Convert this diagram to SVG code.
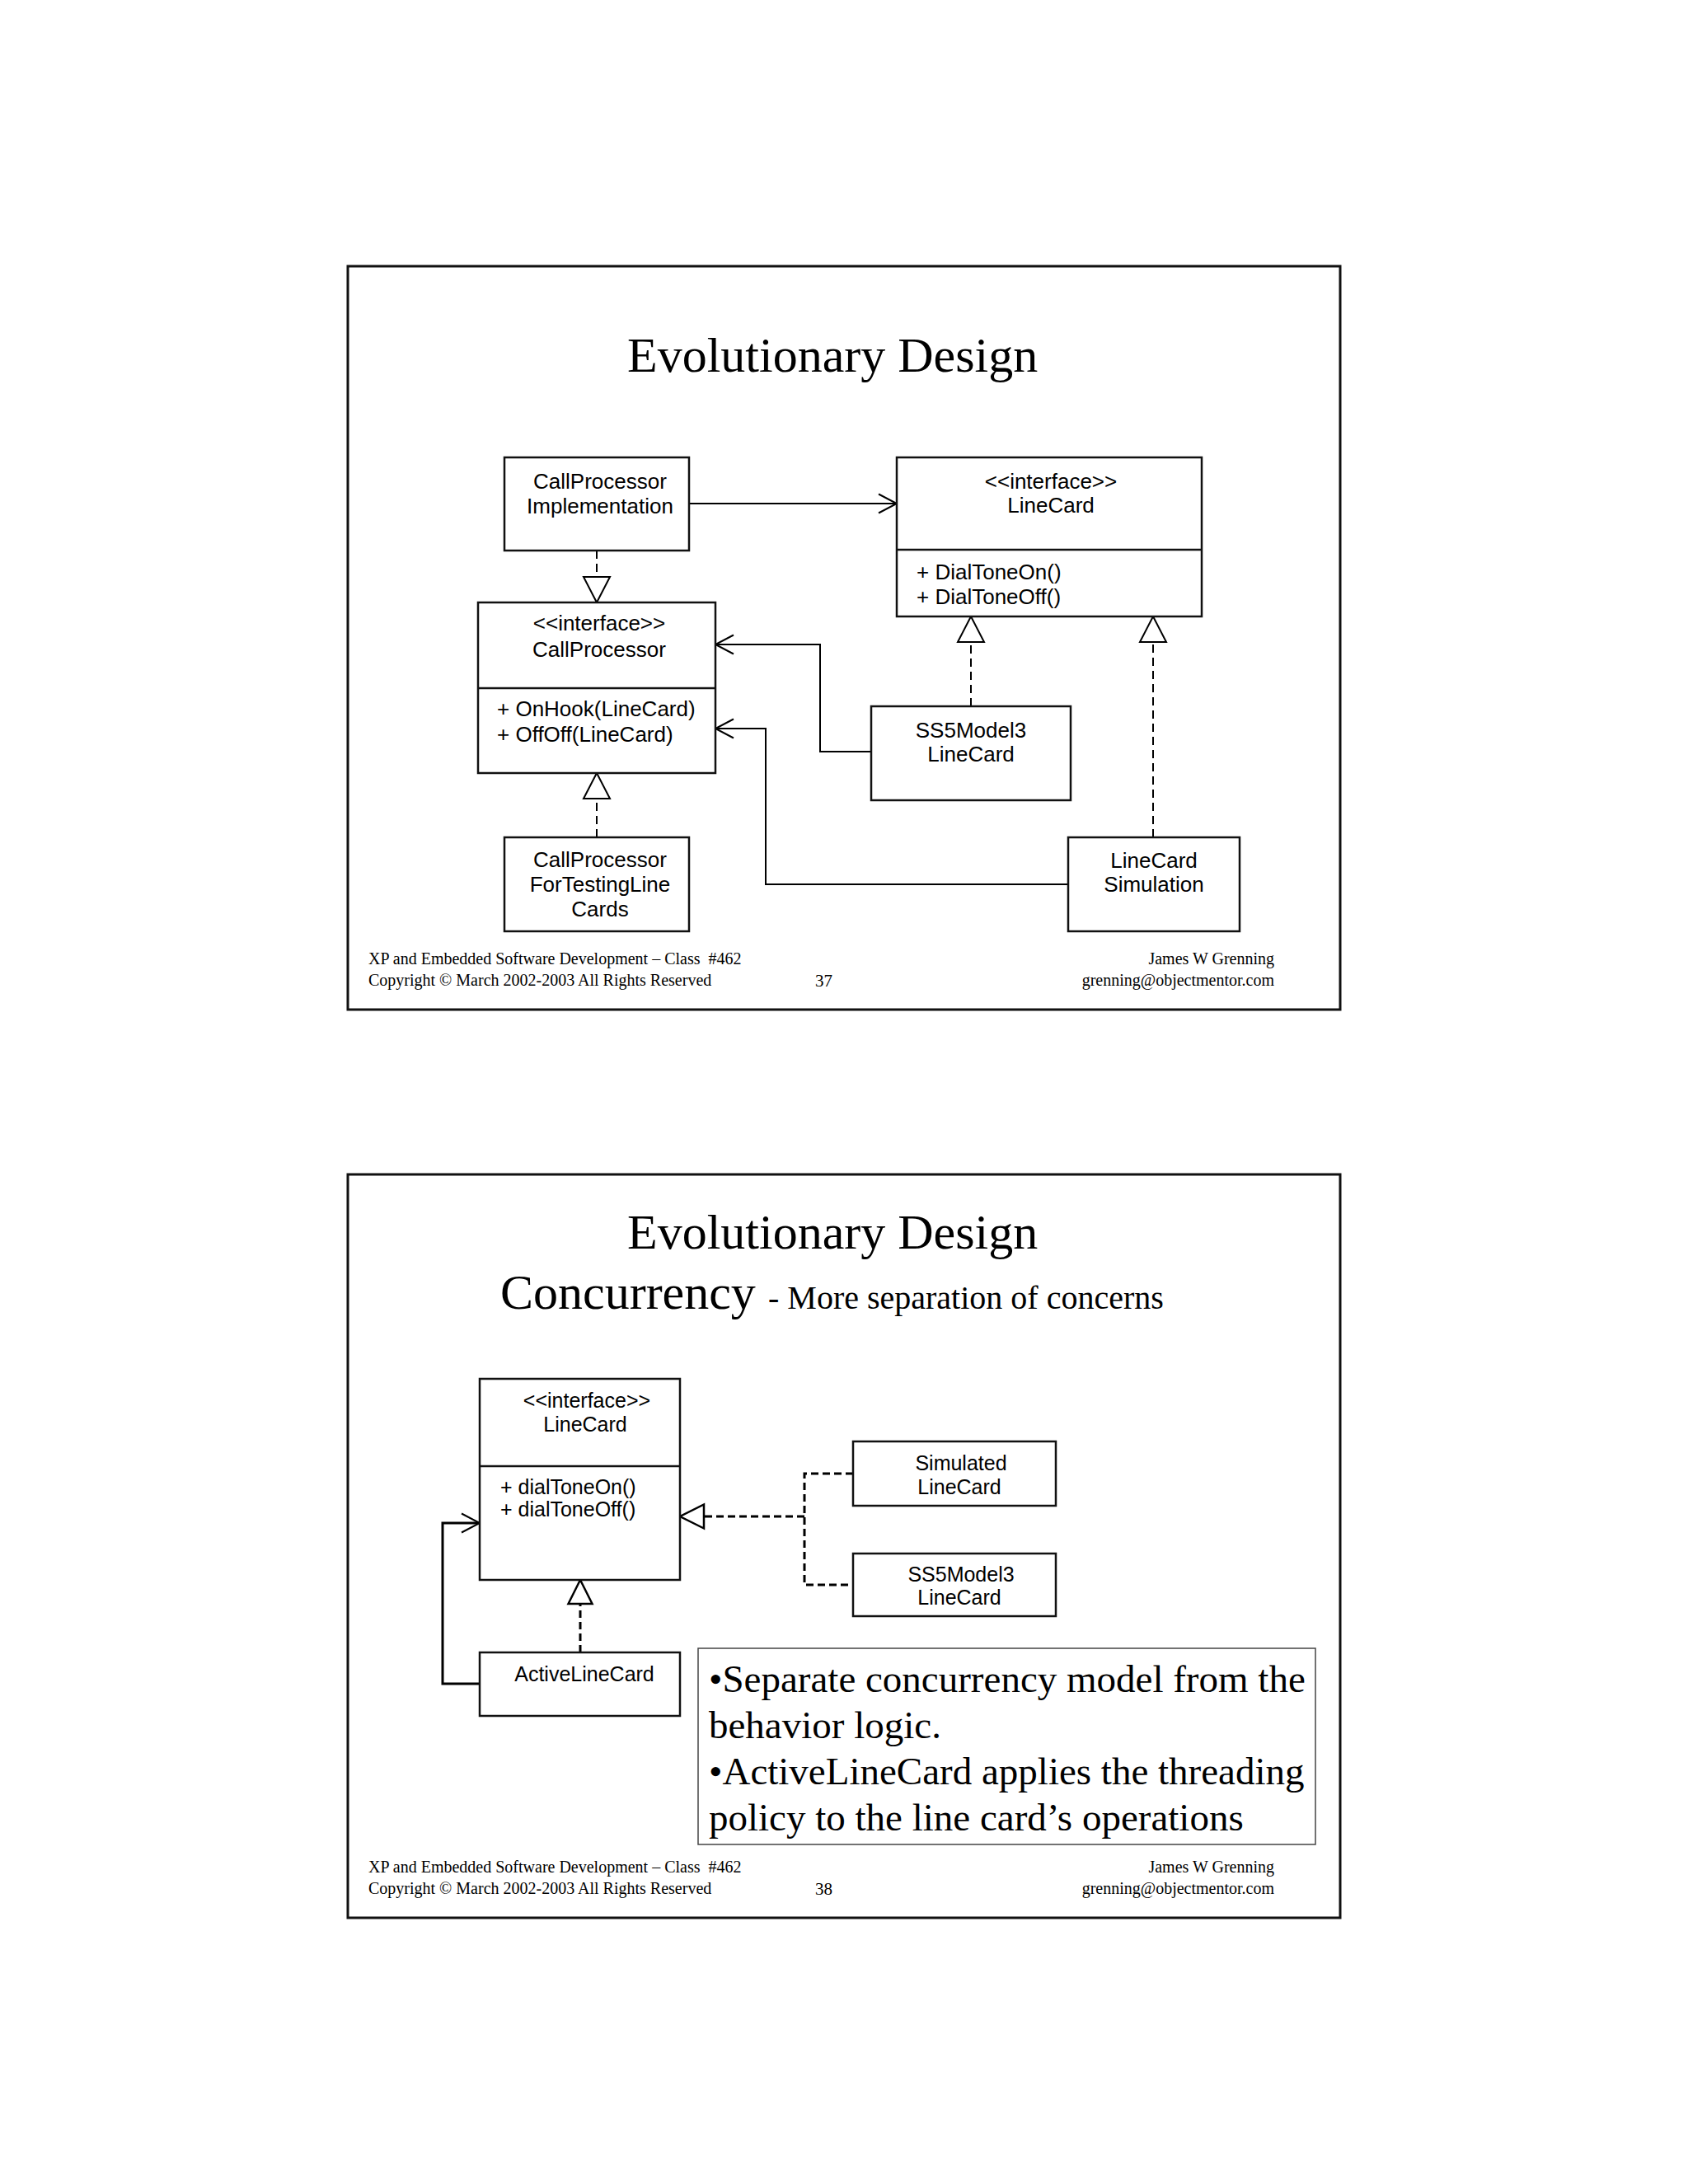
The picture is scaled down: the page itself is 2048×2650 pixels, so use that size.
<svg xmlns="http://www.w3.org/2000/svg" width="2048" height="2650" viewBox="0 0 2048 2650">
<style>
.page{fill:#fff}
.slide{fill:none;stroke:#111;stroke-width:3}
.box{fill:#fff;stroke:#111;stroke-width:2.5}
.sep{stroke:#111;stroke-width:2.5}
.lbl{font-family:"Liberation Sans",Arial,sans-serif;font-size:26px;fill:#000}
.lbl2{font-family:"Liberation Sans",Arial,sans-serif;font-size:25px;fill:#000}
.mid{text-anchor:middle}
.ttl{font-family:"Liberation Serif","Times New Roman",serif;font-size:60px;fill:#000}
.ft{font-family:"Liberation Serif","Times New Roman",serif;font-size:20px;fill:#000}
.body{font-family:"Liberation Serif","Times New Roman",serif;font-size:47px;fill:#000}
.assoc{fill:none;stroke:#000;stroke-width:2}
.assoc2{fill:none;stroke:#000;stroke-width:3}
.dash{fill:none;stroke:#000;stroke-width:2;stroke-dasharray:10 6}
.dash2{fill:none;stroke:#000;stroke-width:3;stroke-dasharray:9 5}
.note{fill:none;stroke:#444;stroke-width:1.5}
</style>
<defs>
<marker id="open" viewBox="-2 -2 28 28" refX="22" refY="12" markerWidth="28" markerHeight="28" orient="auto" markerUnits="userSpaceOnUse" overflow="visible">
<path d="M0,0.5 L22,12 L0,23.5" fill="none" stroke="#000" stroke-width="2"/>
</marker>
<marker id="tri" viewBox="0 0 34 34" refX="32" refY="17" markerWidth="34" markerHeight="34" orient="auto" markerUnits="userSpaceOnUse" overflow="visible">
<path d="M1,1 L32,17 L1,33 Z" fill="#fff" stroke="#000" stroke-width="2" stroke-dasharray="none"/>
</marker>
<marker id="tri2" viewBox="0 0 32 32" refX="30" refY="16" markerWidth="32" markerHeight="32" orient="auto" markerUnits="userSpaceOnUse" overflow="visible">
<path d="M1,1.5 L30,16 L1,30.5 Z" fill="#fff" stroke="#000" stroke-width="2.5" stroke-dasharray="none"/>
</marker>
</defs>
<rect class="page" x="0" y="0" width="2048" height="2650"/>

<!-- ================= Slide 37 ================= -->
<g id="slide37">
<rect class="slide" x="422" y="323" width="1204" height="902"/>
<text class="ttl" x="761" y="451">Evolutionary Design</text>

<g id="connectors37">
<path class="assoc" d="M836,611 H1088" marker-end="url(#open)"/>
<path class="assoc" d="M1057,912 H995 V782 H868" marker-end="url(#open)"/>
<path class="assoc" d="M1296,1073 H929 V884 H868" marker-end="url(#open)"/>
<path class="dash" d="M724,668 V731" marker-end="url(#tri)"/>
<path class="dash" d="M724,1016 V938" marker-end="url(#tri)"/>
<path class="dash" d="M1178,857 V748" marker-end="url(#tri)"/>
<path class="dash" d="M1399,1016 V748" marker-end="url(#tri)"/>
</g>

<g id="CallProcessorImplementation">
<rect class="box" x="612" y="555" width="224" height="113"/>
<text class="lbl mid" x="728" y="593">CallProcessor</text>
<text class="lbl mid" x="728" y="623">Implementation</text>
</g>

<g id="LineCardInterface37">
<rect class="box" x="1088" y="555" width="370" height="193"/>
<line class="sep" x1="1088" y1="667" x2="1458" y2="667"/>
<text class="lbl mid" x="1275" y="593">&lt;&lt;interface&gt;&gt;</text>
<text class="lbl mid" x="1275" y="622">LineCard</text>
<text class="lbl" x="1112" y="703">+ DialToneOn()</text>
<text class="lbl" x="1112" y="733">+ DialToneOff()</text>
</g>

<g id="CallProcessorInterface">
<rect class="box" x="580" y="731" width="288" height="207"/>
<line class="sep" x1="580" y1="835" x2="868" y2="835"/>
<text class="lbl mid" x="727" y="765">&lt;&lt;interface&gt;&gt;</text>
<text class="lbl mid" x="727" y="797">CallProcessor</text>
<text class="lbl" x="603" y="869">+ OnHook(LineCard)</text>
<text class="lbl" x="603" y="900">+ OffOff(LineCard)</text>
</g>

<g id="SS5Model3LineCard37">
<rect class="box" x="1057" y="857" width="242" height="114"/>
<text class="lbl mid" x="1178" y="895">SS5Model3</text>
<text class="lbl mid" x="1178" y="924">LineCard</text>
</g>

<g id="CallProcessorForTestingLineCards">
<rect class="box" x="612" y="1016" width="224" height="114"/>
<text class="lbl mid" x="728" y="1052">CallProcessor</text>
<text class="lbl mid" x="728" y="1082">ForTestingLine</text>
<text class="lbl mid" x="728" y="1112">Cards</text>
</g>

<g id="LineCardSimulation">
<rect class="box" x="1296" y="1016" width="208" height="114"/>
<text class="lbl mid" x="1400" y="1053">LineCard</text>
<text class="lbl mid" x="1400" y="1082">Simulation</text>
</g>

<g id="footer37">
<text class="ft" x="447" y="1170" xml:space="preserve">XP and Embedded Software Development – Class  #462</text>
<text class="ft" x="447" y="1196">Copyright © March 2002-2003 All Rights Reserved</text>
<text class="ft" x="989" y="1197" style="font-size:21px">37</text>
<text class="ft" x="1546" y="1170" text-anchor="end">James W Grenning</text>
<text class="ft" x="1546" y="1196" text-anchor="end">grenning@objectmentor.com</text>
</g>
</g>

<!-- ================= Slide 38 ================= -->
<g id="slide38">
<rect class="slide" x="422" y="1425" width="1204" height="902"/>
<text class="ttl" x="761" y="1515">Evolutionary Design</text>
<text class="ttl" x="607" y="1588">Concurrency<tspan x="932" style="font-size:40px">- More separation of concerns</tspan></text>

<g id="connectors38">
<path class="dash2" d="M976,1840 H825" marker-end="url(#tri2)"/>
<path class="dash2" d="M1035,1788 H976 V1923 H1035"/>
<path class="dash2" d="M704,2005 V1917" marker-end="url(#tri2)"/>
<path class="assoc2" d="M582,2043 H537 V1848 H582" marker-end="url(#open)"/>
</g>

<g id="LineCardInterface38">
<rect class="box" x="582" y="1673" width="243" height="244"/>
<line class="sep" x1="582" y1="1779" x2="825" y2="1779"/>
<text class="lbl2 mid" x="712" y="1708">&lt;&lt;interface&gt;&gt;</text>
<text class="lbl2 mid" x="710" y="1737">LineCard</text>
<text class="lbl2" x="607" y="1813">+ dialToneOn()</text>
<text class="lbl2" x="607" y="1840">+ dialToneOff()</text>
</g>

<g id="SimulatedLineCard">
<rect class="box" x="1035" y="1749" width="246" height="78"/>
<text class="lbl2 mid" x="1166" y="1784">Simulated</text>
<text class="lbl2 mid" x="1164" y="1813">LineCard</text>
</g>

<g id="SS5Model3LineCard38">
<rect class="box" x="1035" y="1885" width="246" height="76"/>
<text class="lbl2 mid" x="1166" y="1919">SS5Model3</text>
<text class="lbl2 mid" x="1164" y="1947">LineCard</text>
</g>

<g id="ActiveLineCard">
<rect class="box" x="582" y="2005" width="243" height="77"/>
<text class="lbl2 mid" x="709" y="2040">ActiveLineCard</text>
</g>

<g id="noteBox">
<rect class="note" x="847" y="2000" width="749" height="238"/>
<text class="body" x="860" y="2053">•Separate concurrency model from the</text>
<text class="body" x="860" y="2109">behavior logic.</text>
<text class="body" x="860" y="2165">•ActiveLineCard applies the threading</text>
<text class="body" x="860" y="2221">policy to the line card’s operations</text>
</g>

<g id="footer38">
<text class="ft" x="447" y="2272" xml:space="preserve">XP and Embedded Software Development – Class  #462</text>
<text class="ft" x="447" y="2298">Copyright © March 2002-2003 All Rights Reserved</text>
<text class="ft" x="989" y="2299" style="font-size:21px">38</text>
<text class="ft" x="1546" y="2272" text-anchor="end">James W Grenning</text>
<text class="ft" x="1546" y="2298" text-anchor="end">grenning@objectmentor.com</text>
</g>
</g>
</svg>
